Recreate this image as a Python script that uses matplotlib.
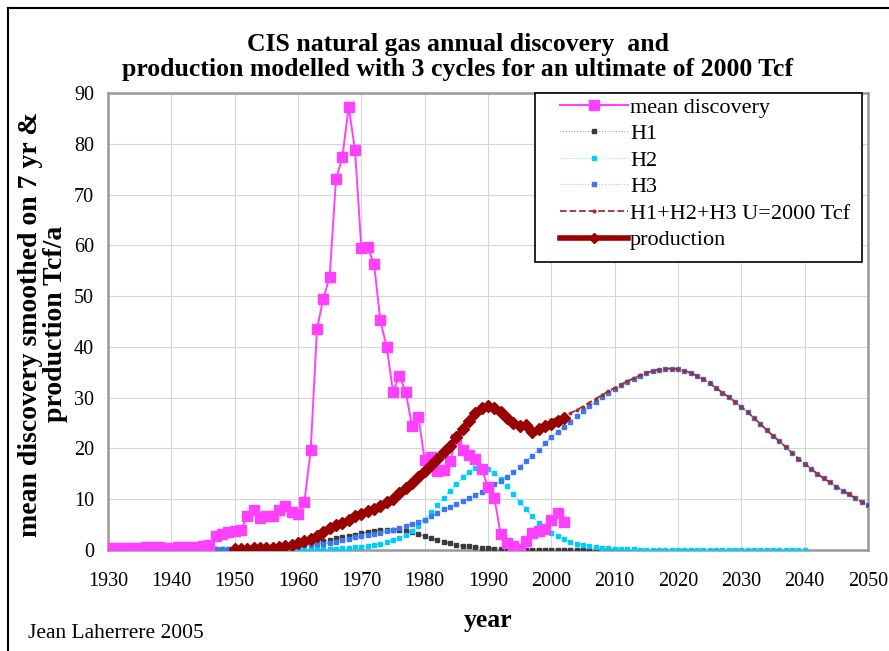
import matplotlib
matplotlib.use("Agg")
import matplotlib.pyplot as plt
from matplotlib.lines import Line2D
from matplotlib.patches import Rectangle
import numpy as np

plt.rcParams['font.family'] = ['Liberation Serif', 'DejaVu Serif']

# ---------------- data ----------------
disc_years = list(range(1930, 2003))
discovery = [0.3, 0.3, 0.3, 0.3, 0.3, 0.3, 0.5, 0.5, 0.5, 0.4,
             0.4, 0.5, 0.5, 0.6, 0.6, 0.8, 0.9, 2.8, 3.2, 3.5,
             3.7, 3.9, 6.6, 7.9, 6.3, 6.6, 6.6, 7.9, 8.7, 7.4,
             7.1, 9.4, 19.6, 43.6, 49.5, 53.8, 73.0, 77.3, 87.3, 78.8,
             59.4, 59.6, 56.4, 45.2, 40.0, 31.2, 34.3, 31.2, 24.4, 26.2,
             17.8, 18.4, 15.5, 15.8, 17.5, 21.8, 19.6, 18.8, 18.0, 16.0,
             12.4, 10.3, 3.2, 1.4, 0.8, 0.1, 1.7, 3.4, 3.8, 4.1,
             6.0, 7.3, 5.5]

prod_years = list(range(1950, 2003))
production = [0.2, 0.2, 0.2, 0.3, 0.3, 0.3, 0.4, 0.5, 0.7, 0.9,
              1.3, 1.7, 2.2, 2.8, 3.5, 4.3, 4.9, 5.4, 6.0, 6.6,
              7.1, 7.6, 8.0, 8.6, 9.4, 10.1, 11.3, 12.3, 13.2, 14.3,
              15.6, 16.8, 18.0, 19.3, 20.5, 22.2, 23.9, 25.5, 27.0, 28.0,
              28.4, 28.0, 27.2, 26.0, 25.0, 24.4, 24.6, 23.2, 23.9, 24.4,
              24.9, 25.4, 25.9]

h1_years = list(range(1930, 2011))
h1 = [0.01, 0.01, 0.02, 0.02, 0.03, 0.03, 0.04, 0.05, 0.06, 0.07,
      0.08, 0.09, 0.1, 0.12, 0.14, 0.16, 0.18, 0.2, 0.23, 0.26,
      0.3, 0.34, 0.38, 0.43, 0.49, 0.55, 0.62, 0.7, 0.79, 0.89,
      1.0, 1.15, 1.3, 1.5, 1.75, 2.0, 2.3, 2.55, 2.8, 3.05,
      3.3, 3.55, 3.75, 3.9, 3.95, 3.95, 3.9, 3.75, 3.5, 3.1,
      2.7, 2.3, 1.9, 1.6, 1.3, 1.05, 0.85, 0.7, 0.55, 0.45,
      0.36, 0.29, 0.23, 0.18, 0.14, 0.11, 0.09, 0.07, 0.05, 0.04,
      0.03, 0.03, 0.02, 0.02, 0.02, 0.01, 0.01, 0.01, 0.01, 0.01, 0.01]

h2_years = list(range(1955, 2041))
h2 = [0.02, 0.03, 0.04, 0.05, 0.06,
      0.08, 0.1, 0.12, 0.15, 0.18, 0.22, 0.27, 0.33, 0.4, 0.5,
      0.62, 0.78, 0.97, 1.2, 1.5, 1.9, 2.4, 3.0, 3.8, 4.8,
      6.0, 7.4, 8.8, 10.2, 11.7, 13.0, 14.3, 15.4, 16.1, 16.3,
      16.0, 15.2, 14.0, 12.6, 11.0, 9.5, 8.0, 6.6, 5.4, 4.3,
      3.4, 2.7, 2.1, 1.6, 1.25, 0.95, 0.73, 0.56, 0.43, 0.33,
      0.25, 0.19, 0.15, 0.11, 0.09, 0.07, 0.05, 0.04, 0.03, 0.02,
      0.02, 0.02, 0.01, 0.01, 0.01, 0.01, 0.01, 0.01, 0.01, 0.01,
      0.01, 0.01, 0.01, 0.01, 0.01, 0.01, 0.01, 0.01, 0.01, 0.01,
      0.01]

h3_years = list(range(1940, 2051))
h3 = [0.05, 0.06, 0.08, 0.09, 0.11, 0.13, 0.15, 0.18, 0.2, 0.23,
      0.27, 0.3, 0.34, 0.38, 0.43, 0.48, 0.54, 0.6, 0.67, 0.75,
      0.83, 0.92, 1.02, 1.13, 1.25, 1.4, 1.6, 1.9, 2.2, 2.5,
      2.8, 3.0, 3.2, 3.4, 3.7, 4.0, 4.4, 4.8, 5.1, 5.5,
      6.0, 6.6, 7.3, 8.0, 8.5, 9.0, 9.6, 10.2, 10.8, 11.5,
      12.2, 12.9, 13.6, 14.4, 15.3, 16.4, 17.5, 18.6, 19.7, 21.0,
      22.2, 23.3, 24.3, 25.3, 26.3, 27.3, 28.3, 29.2, 30.1, 30.9,
      31.7, 32.4, 33.1, 33.7, 34.3, 34.8, 35.2, 35.5, 35.7, 35.7,
      35.6, 35.3, 34.9, 34.3, 33.6, 32.8, 31.9, 31.0, 30.1, 29.2,
      28.2, 27.1, 26.0, 24.8, 23.6, 22.5, 21.4, 20.3, 19.1, 18.0,
      17.0, 16.0, 15.0, 14.1, 13.3, 12.5, 11.7, 11.0, 10.2, 9.5, 8.8]

sum_start_year = 2000   # the summed model is visible from here on

x_ticks = list(range(1930, 2051, 10))
y_ticks = list(range(0, 91, 10))

title = "CIS natural gas annual discovery  and\nproduction modelled with 3 cycles for an ultimate of 2000 Tcf"
ylabel_text = "mean discovery smoothed on 7 yr &\nproduction Tcf/a"

# sum of the three cycles
all_years = list(range(1930, 2051))
def on_years(years, vals):
    d = dict(zip(years, vals))
    return np.array([d.get(y, 0.0) for y in all_years])
h_sum = on_years(h1_years, h1) + on_years(h2_years, h2) + on_years(h3_years, h3)
sum_years = np.array(all_years)
mask = sum_years >= sum_start_year

# ---------------- figure ----------------
fig = plt.figure(figsize=(8.89, 6.51), dpi=100)
W, H = 889, 651
x0, x1, y0, y1 = 108, 868, 550, 93
ax = fig.add_axes([x0 / W, 1 - y0 / H, (x1 - x0) / W, (y0 - y1) / H])

c_disc = '#ff40ff'
c_h1 = '#3a3a3a'
c_h2 = '#00ccff'
c_h3 = '#3c78f0'
c_sum = '#a03030'
c_prod = '#990000'

ax.grid(True, color='#d6d6d6', lw=0.8)
ax.set_axisbelow(True)

dot = (0, (1, 3))
ax.plot(h1_years, h1, ls=dot, lw=0.8, color=c_h1, marker='s', ms=2.3, zorder=3)
ax.plot(h2_years, h2, ls=dot, lw=0.8, color=c_h2, marker='s', ms=2.4, zorder=3)
ax.plot(h3_years, h3, ls=dot, lw=0.8, color=c_h3, marker='s', ms=2.4, zorder=3)
ax.plot(sum_years[mask], h_sum[mask], ls='--', lw=1.3, color=c_sum, marker='o',
        ms=1.8, zorder=4)
ax.plot(disc_years, discovery, color=c_disc, lw=1.4, marker='s', ms=7, zorder=5)
ax.plot(prod_years, production, color=c_prod, lw=3.5, marker='D', ms=5.8, zorder=6)

ax.set_xlim(1930, 2050)
ax.set_ylim(0, 90)
ax.set_xticks(x_ticks)
ax.set_yticks(y_ticks)
ax.tick_params(axis='x', labelsize=14.5, length=0, pad=16)
ax.tick_params(axis='y', labelsize=14.5, length=0, pad=10)
for s in ax.spines.values():
    s.set_color('#9a9a9a')
    s.set_linewidth(1.8)

# legend (frame drawn separately to match the reference box)
handles = [
    Line2D([], [], color=c_disc, lw=1.5, marker='s', ms=7),
    Line2D([], [], color=c_h1, ls=dot, lw=0.5, marker='s', ms=2.2),
    Line2D([], [], color=c_h2, ls=dot, lw=0.5, marker='s', ms=2.4),
    Line2D([], [], color=c_h3, ls=dot, lw=0.5, marker='s', ms=2.4),
    Line2D([], [], color=c_sum, ls='--', lw=1.3, marker='o', ms=2),
    Line2D([], [], color=c_prod, lw=4, marker='D', ms=5.5),
]
labels = ['mean discovery', 'H1', 'H2', 'H3', 'H1+H2+H3 U=2000 Tcf', 'production']
leg = ax.legend(handles, labels, loc='upper left',
                bbox_to_anchor=((560 - x0) / (x1 - x0), 1 - 4 / (y0 - y1)),
                borderaxespad=0, borderpad=0, fontsize=16, numpoints=1,
                handlelength=3.05, handletextpad=0.1, labelspacing=0.27,
                frameon=False)
leg.set_zorder(10)
frame = Rectangle((535 / W, 1 - 262 / H), (862 - 535) / W, (262 - 93) / H,
                  transform=fig.transFigure, facecolor='white', edgecolor='black',
                  lw=1.2, zorder=9)
ax.add_artist(frame)
frame.set_clip_on(False)
frame.set_transform(fig.transFigure)

# texts
fig.text(458 / W, 1 - 57 / H, title, ha='center', va='center', fontsize=18.5,
         fontweight='bold', linespacing=1.16)
fig.text(43 / W, 1 - 324 / H, ylabel_text, ha='center', va='center', rotation=90,
         fontsize=20, fontweight='bold', linespacing=1.0)
fig.text(488 / W, 1 - 620 / H, 'year', ha='center', va='center', fontsize=18.5,
         fontweight='bold')
fig.text(28 / W, 1 - 633 / H, 'Jean Laherrere 2005', ha='left', va='center',
         fontsize=15.5)

# outer frame (left and top edges)
fig.add_artist(Line2D([8 / W, 8 / W], [0, 1 - 8 / H], color='black', lw=1.5,
                      transform=fig.transFigure))
fig.add_artist(Line2D([8 / W, 1], [1 - 8 / H, 1 - 8 / H], color='black', lw=1.5,
                      transform=fig.transFigure))

fig.savefig('out.png', dpi=100)
